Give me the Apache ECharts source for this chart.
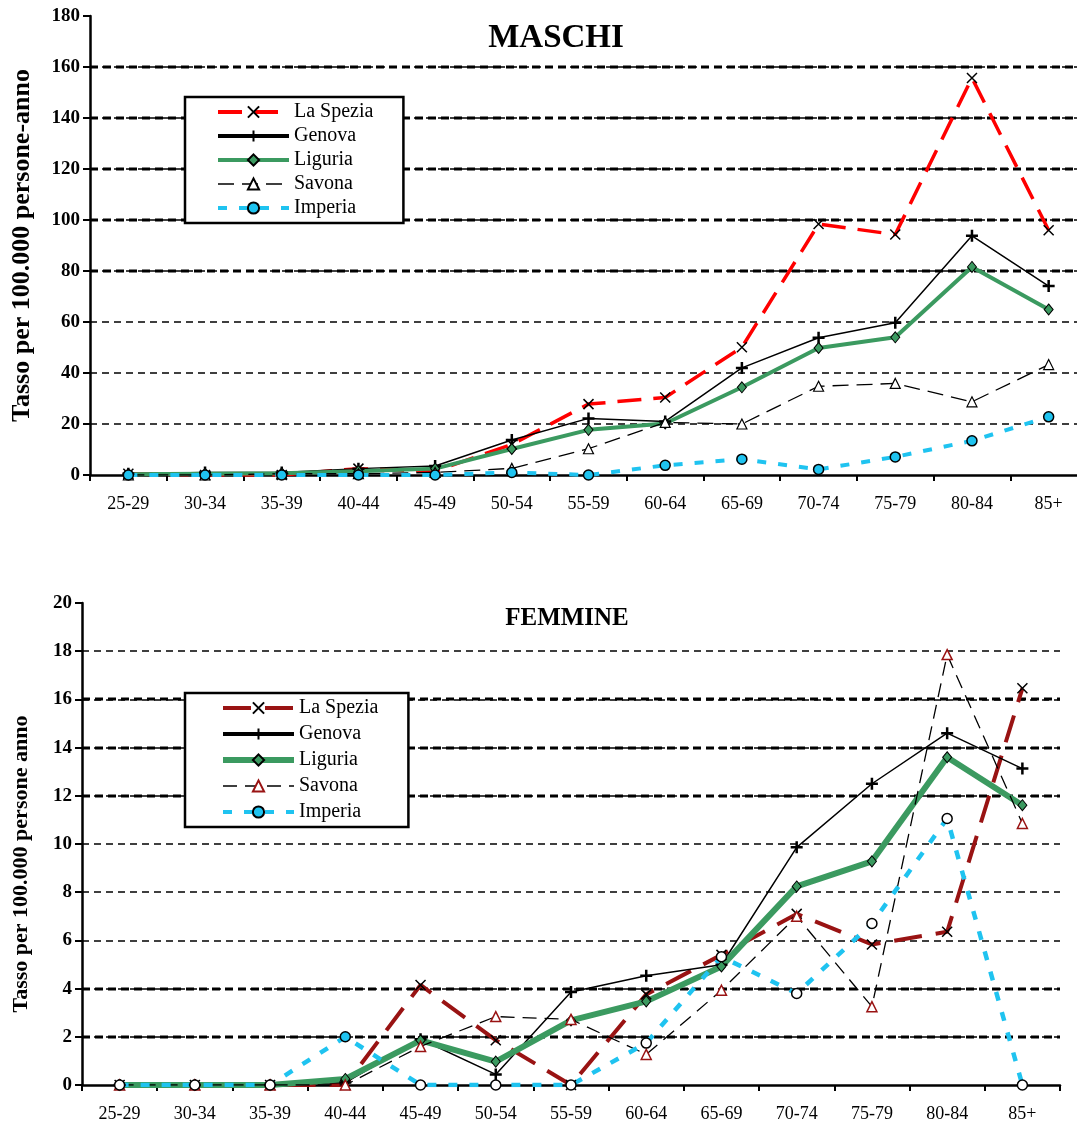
<!DOCTYPE html>
<html>
<head>
<meta charset="utf-8">
<title>Tasso per 100.000 persone-anno</title>
<script src="https://cdn.jsdelivr.net/npm/echarts@6.0.0/dist/echarts.min.js"></script>
<style>
  html, body { margin: 0; padding: 0; background: #fff; }
  #maschi  { position: absolute; left: 0; top: 0;     width: 1077px; height: 545px; }
  #femmine { position: absolute; left: 0; top: 545px; width: 1077px; height: 581px; }
</style>
</head>
<body>
<div id="maschi"></div>
<div id="femmine"></div>
<script>
// Age classes on the x axis
const ageGroups = ['25-29', '30-34', '35-39', '40-44', '45-49', '50-54', '55-59',
                   '60-64', '65-69', '70-74', '75-79', '80-84', '85+'];
const areaNames = ['La Spezia', 'Genova', 'Liguria', 'Savona', 'Imperia'];

// Maschi: rate per 100,000 person-years
const laSpeziaM = [0.5, 0.0, 0.0, 2.5, 1.5, 12.0, 27.8, 30.4, 50.1, 98.4, 94.3, 155.7, 96.0];
const genovaM   = [0.5, 1.0, 1.0, 2.5, 3.5, 13.7, 22.2, 21.0, 42.0, 53.8, 59.7, 93.8, 74.1];
const liguriaM  = [0.3, 0.5, 0.7, 1.5, 2.5, 10.2, 17.7, 20.2, 34.4, 49.8, 54.0, 81.6, 64.9];
const savonaM   = [0.0, 0.0, 0.5, 0.5, 1.0, 2.6, 10.3, 20.6, 20.0, 34.8, 35.9, 28.7, 43.3];
const imperiaM  = [0.0, 0.0, 0.0, 0.0, 0.0, 1.0, 0.0, 3.8, 6.2, 2.2, 7.1, 13.4, 22.8];

// Femmine: rate per 100,000 person-years
const laSpeziaF = [0, 0, 0, 0, 4.15, 1.86, 0, 3.76, 5.4, 7.1, 5.83, 6.36, 16.46];
const genovaF   = [0, 0, 0, 0.1, 1.9, 0.44, 3.86, 4.53, 4.99, 9.86, 12.5, 14.6, 13.13];
const liguriaF  = [0, 0, 0, 0.25, 1.85, 0.97, 2.68, 3.47, 4.92, 8.24, 9.28, 13.6, 11.61];
const savonaF   = [0, 0, 0, 0, 1.6, 2.84, 2.72, 1.27, 3.93, 7.0, 3.25, 17.86, 10.85];
const imperiaF  = [0, 0, 0, 2.0, 0, 0, 0, 1.74, 5.32, 3.8, 6.7, 11.06, 0];

// Y axis ticks
const yTicksM = [0, 20, 40, 60, 80, 100, 120, 140, 160, 180];
const yTicksF = [0, 2, 4, 6, 8, 10, 12, 14, 16, 18, 20];

const SERIF = '"Liberation Serif", "Times New Roman", serif';
const X_MARK = 'path://M0,0L10,10M10,0L0,10';
const PLUS_MARK = 'path://M5,0L5,10M0,5L10,5';
const CYAN = '#1fc3f0';
const GREEN = '#3b9a60';

// heavier dashed rules drawn through the value axis scale
function ruleSeries(values, width, dash) {
  return {
    type: 'custom', name: 'rules', silent: true, z: 1,
    data: values.map(v => [0, v]),
    encode: { x: 0, y: 1 },
    renderItem(params, api) {
      const cs = params.coordSys;
      const y = Math.round(api.coord([0, api.value(1)])[1]);
      return {
        type: 'line',
        shape: { x1: cs.x, y1: y, x2: cs.x + cs.width, y2: y },
        style: { stroke: '#000', lineWidth: width, lineDash: dash }
      };
    }
  };
}

function xAxisCfg() {
  return {
    type: 'category', data: ageGroups, boundaryGap: true,
    axisLine: { show: true, lineStyle: { color: '#000', width: 2.5 } },
    axisTick: { show: true, length: 6, lineStyle: { color: '#000', width: 2 } },
    axisLabel: { fontFamily: SERIF, fontSize: 18, color: '#000', margin: 20 },
    splitLine: { show: false }
  };
}

function yAxisCfg(ticks, name, nameSize, nameGap, namePad) {
  return {
    type: 'value', min: ticks[0], max: ticks[ticks.length - 1], interval: ticks[1] - ticks[0],
    name: name, nameLocation: 'middle', nameGap: nameGap, nameRotate: 90,
    nameTextStyle: { fontFamily: SERIF, fontWeight: 'bold', fontSize: nameSize, color: '#000',
                     padding: namePad },
    axisLine: { show: true, lineStyle: { color: '#000', width: 2.5 } },
    axisTick: { show: true, length: 7, lineStyle: { color: '#000', width: 2 } },
    axisLabel: { fontFamily: SERIF, fontWeight: 'bold', fontSize: 19, color: '#000', margin: 10 },
    splitLine: { show: true, showMinLine: false, showMaxLine: false,
                 lineStyle: { color: '#000', width: 1.5, type: [7, 5] } }
  };
}

function legendCfg(top, gap, padLeft, widths) {
  return {
    orient: 'vertical', left: 185, top: top,
    padding: [5, 30, 5, padLeft], itemGap: gap, itemWidth: 71, itemHeight: 14, itemTextGap: 2,
    backgroundColor: '#fff', borderColor: '#000', borderWidth: 2.5, borderRadius: 0,
    textStyle: { fontFamily: SERIF, fontSize: 20, color: '#000' },
    data: areaNames.map((n, i) => ({ name: n, lineStyle: { width: widths[i] } }))
  };
}

function titleText(text, x, y, size) {
  return {
    type: 'text', x: x, y: y, z: 10,
    style: { text: text, fontFamily: SERIF, fontWeight: 'bold', fontSize: size, fill: '#000',
             align: 'center', verticalAlign: 'middle' }
  };
}

// ---------- MASCHI ----------
const chartM = echarts.init(document.getElementById('maschi'), null, { renderer: 'canvas' });
chartM.setOption({
  animation: false,
  backgroundColor: '#fff',
  grid: { left: 90, top: 16, width: 997, height: 459, outerBoundsMode: 'none', containLabel: false },
  xAxis: xAxisCfg(),
  yAxis: yAxisCfg(yTicksM, 'Tasso per 100.000 persone-anno', 26, 55, 0),
  legend: legendCfg(97, 4, 31, [4, 4, 4, 1.5, 4]),
  graphic: [titleText('MASCHI', 556, 38, 33)],
  series: [
    ruleSeries([80, 100, 120, 140, 160], 3, [8, 5]),
    {
      name: 'La Spezia', type: 'line', data: laSpeziaM, z: 3,
      lineStyle: { color: '#ff0000', width: 3.5, type: [24, 12] },
      symbol: X_MARK, symbolSize: 10,
      itemStyle: { color: 'rgba(0,0,0,0)', borderColor: '#000', borderWidth: 1.5 }
    },
    {
      name: 'Genova', type: 'line', data: genovaM, z: 3,
      lineStyle: { color: '#000', width: 1.5, type: 'solid' },
      symbol: PLUS_MARK, symbolSize: 12,
      itemStyle: { color: 'rgba(0,0,0,0)', borderColor: '#000', borderWidth: 2.5 }
    },
    {
      name: 'Liguria', type: 'line', data: liguriaM, z: 3,
      lineStyle: { color: GREEN, width: 4 },
      symbol: 'diamond', symbolSize: [9, 11],
      itemStyle: { color: GREEN, borderColor: '#000', borderWidth: 1 }
    },
    {
      name: 'Savona', type: 'line', data: savonaM, z: 3,
      lineStyle: { color: '#000', width: 1.3, type: [16, 8] },
      symbol: 'triangle', symbolSize: 10,
      itemStyle: { color: '#fff', borderColor: '#000', borderWidth: 1.2 }
    },
    {
      name: 'Imperia', type: 'line', data: imperiaM, z: 3,
      lineStyle: { color: CYAN, width: 4, type: [9, 12] },
      symbol: 'circle', symbolSize: 10,
      itemStyle: { color: CYAN, borderColor: '#000', borderWidth: 1.5 }
    }
  ]
});

// ---------- FEMMINE ----------
const DARK_RED = '#991313';
const chartF = echarts.init(document.getElementById('femmine'), null, { renderer: 'canvas' });
chartF.setOption({
  animation: false,
  backgroundColor: '#fff',
  grid: { left: 82, top: 58, width: 978, height: 482, outerBoundsMode: 'none', containLabel: false },
  xAxis: xAxisCfg(),
  yAxis: yAxisCfg(yTicksF, 'Tasso per 100.000 persone anno', 22, 50, [0, 40, 0, 0]),
  legend: legendCfg(148, 6, 35, [4, 4, 6, 1.5, 4]),
  graphic: [titleText('FEMMINE', 567, 74, 25)],
  series: [
    ruleSeries([2, 4, 12, 14, 16], 3, [8, 5]),
    {
      name: 'La Spezia', type: 'line', data: laSpeziaF, z: 3,
      lineStyle: { color: DARK_RED, width: 4, type: [28, 14] },
      symbol: X_MARK, symbolSize: 10,
      itemStyle: { color: 'rgba(0,0,0,0)', borderColor: '#000', borderWidth: 1.5 }
    },
    {
      name: 'Genova', type: 'line', data: genovaF, z: 3,
      lineStyle: { color: '#000', width: 1.5, type: 'solid' },
      symbol: PLUS_MARK, symbolSize: 12,
      itemStyle: { color: 'rgba(0,0,0,0)', borderColor: '#000', borderWidth: 2.5 }
    },
    {
      name: 'Liguria', type: 'line', data: liguriaF, z: 3,
      lineStyle: { color: GREEN, width: 6 },
      symbol: 'diamond', symbolSize: [9, 11],
      itemStyle: { color: GREEN, borderColor: '#000', borderWidth: 1 }
    },
    {
      name: 'Savona', type: 'line', data: savonaF, z: 3,
      lineStyle: { color: '#000', width: 1.3, type: [14, 8] },
      symbol: 'triangle', symbolSize: 10,
      itemStyle: { color: '#fff', borderColor: DARK_RED, borderWidth: 1.5 }
    },
    {
      name: 'Imperia', type: 'line', z: 3,
      // hollow markers except where the point sits on its own
      data: imperiaF.map((v, i) => (i === 3 ? v : { value: v, itemStyle: { color: '#fff' } })),
      lineStyle: { color: CYAN, width: 4.5, type: [9, 12] },
      symbol: 'circle', symbolSize: 10,
      itemStyle: { color: CYAN, borderColor: '#000', borderWidth: 1.5 }
    }
  ]
});
</script>
</body>
</html>
